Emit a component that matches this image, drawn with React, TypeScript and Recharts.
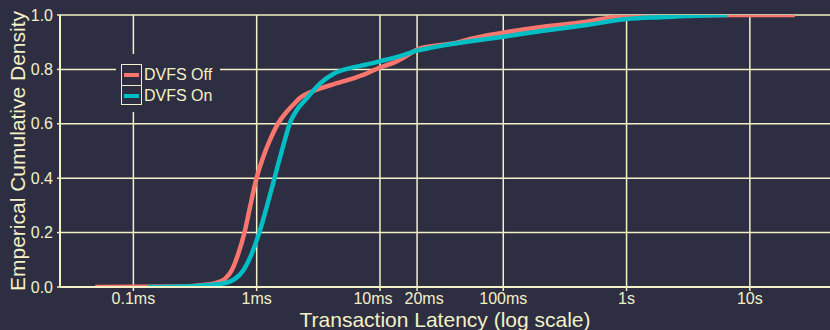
import React from 'react';
import { LineChart, Line, XAxis, YAxis, CartesianGrid } from 'recharts';

// latency in ms, cumulative share
const offLatency = [0.049, 0.25, 0.381, 0.459, 0.553, 0.627, 0.709, 0.804, 0.883, 0.987, 1.13, 1.28, 1.5, 1.75, 2.0, 2.24, 2.54, 3.26, 4.18, 5.71, 7.8, 10, 12.8, 15.5, 18.6, 21.1, 27, 41.9, 53.7, 100, 211, 474, 883, 1285, 23200];
const offDensity = [0, 0.002, 0.008, 0.014, 0.03, 0.061, 0.122, 0.208, 0.294, 0.392, 0.478, 0.54, 0.603, 0.644, 0.672, 0.695, 0.71, 0.73, 0.745, 0.763, 0.785, 0.807, 0.824, 0.843, 0.865, 0.877, 0.886, 0.898, 0.912, 0.935, 0.957, 0.975, 0.996, 1, 1];

const onLatency = [0.13, 0.3, 0.405, 0.52, 0.667, 0.778, 0.911, 1.064, 1.205, 1.38, 1.5, 1.66, 1.86, 2.11, 2.54, 3.26, 4.18, 5.71, 7.8, 10, 14.5, 17.5, 19.9, 27, 41.9, 100, 211, 474, 1000, 1866, 6520];
const onDensity = [0, 0.003, 0.007, 0.012, 0.03, 0.061, 0.122, 0.208, 0.294, 0.392, 0.455, 0.527, 0.603, 0.65, 0.693, 0.748, 0.783, 0.805, 0.818, 0.83, 0.849, 0.861, 0.869, 0.881, 0.896, 0.92, 0.942, 0.963, 0.985, 0.992, 1];

const xTicks = [0.1, 1, 10, 20, 100, 1000, 10000];
const xTickLabels = ['0.1ms', '1ms', '10ms', '20ms', '100ms', '1s', '10s'];
const yTicks = [0, 0.2, 0.4, 0.6, 0.8, 1.0];

const offData = offLatency.map((x, i) => ({ x, y: offDensity[i] }));
const onData = onLatency.map((x, i) => ({ x, y: onDensity[i] }));

const BG = '#2e2e42';
const FG = '#f3f1c6';
const RED = '#f8766d';
const CYAN = '#00bfc4';
const FONT = '"Liberation Sans", Arial, sans-serif';

// 10ms and 20ms sit close together, nudge them apart like the original
const nudge: Record<number, number> = { 10: -7, 20: 7 };

const XTick = (props: any) => {
  const { x, y, payload } = props;
  const v = payload.value as number;
  const i = xTicks.indexOf(v);
  return (
    <text
      x={x + (nudge[v] || 0)}
      y={y}
      dy="0.71em"
      textAnchor="middle"
      fill={FG}
      fontSize={16}
      fontFamily={FONT}
    >
      {i >= 0 ? xTickLabels[i] : String(v)}
    </text>
  );
};

export default function App() {
  return (
    <div
      style={{
        position: 'fixed',
        left: 0,
        top: 0,
        width: 830,
        height: 330,
        background: BG,
        fontFamily: FONT,
        overflow: 'hidden',
      }}
    >
      <LineChart width={830} height={330} margin={{ top: 15, right: 0, bottom: 0, left: 0 }}>
        <CartesianGrid stroke={FG} strokeWidth={1.5} horizontalValues={yTicks} verticalValues={xTicks} />
        <XAxis
          type="number"
          dataKey="x"
          scale="log"
          domain={[0.0254, 44670]}
          allowDataOverflow
          ticks={xTicks}
          interval={0}
          height={43}
          tickSize={4}
          tickMargin={1.5}
          stroke={FG}
          axisLine={{ stroke: FG, strokeWidth: 2 }}
          tickLine={{ stroke: FG, strokeWidth: 1.5 }}
          tick={<XTick />}
          label={{
            content: () => (
              <text x={445} y={327} textAnchor="middle" fill={FG} fontSize={21} fontFamily={FONT}>
                Transaction Latency (log scale)
              </text>
            ),
          }}
        />
        <YAxis
          type="number"
          dataKey="y"
          domain={[0, 1]}
          allowDataOverflow
          ticks={yTicks}
          interval={0}
          tickFormatter={(v: number) => v.toFixed(1)}
          width={60}
          tickSize={3}
          tickMargin={4}
          axisLine={{ stroke: FG, strokeWidth: 2 }}
          tickLine={{ stroke: FG, strokeWidth: 1.5 }}
          tick={{ fill: FG, fontSize: 16, fontFamily: FONT }}
          label={{
            content: () => (
              <text
                x={25}
                y={151}
                transform="rotate(-90 25 151)"
                textAnchor="middle"
                fill={FG}
                fontSize={21}
                fontFamily={FONT}
              >
                Emperical Cumulative Density
              </text>
            ),
          }}
        />
        <Line
          data={offData}
          dataKey="y"
          type="monotoneX"
          stroke={RED}
          strokeWidth={4.5}
          dot={false}
          isAnimationActive={false}
        />
        <Line
          data={onData}
          dataKey="y"
          type="monotoneX"
          stroke={CYAN}
          strokeWidth={4.5}
          dot={false}
          isAnimationActive={false}
        />
      </LineChart>
      <div
        style={{
          position: 'absolute',
          left: 116,
          top: 54,
          width: 104,
          height: 58,
          background: BG,
        }}
      >
        <div
          style={{
            position: 'absolute',
            left: 5,
            top: 10,
            width: 19,
            height: 39,
            border: `1.5px solid ${FG}`,
          }}
        >
          <div style={{ position: 'absolute', left: 0, right: 0, top: 19.5, height: 1.5, background: FG }} />
          <div style={{ position: 'absolute', left: 2, width: 15, top: 8, height: 4, background: RED }} />
          <div style={{ position: 'absolute', left: 2, width: 15, top: 29, height: 4, background: CYAN }} />
        </div>
        {['DVFS Off', 'DVFS On'].map((t, i) => (
          <div
            key={t}
            style={{
              position: 'absolute',
              left: 28,
              top: 11 + i * 21,
              fontSize: 16,
              lineHeight: '20px',
              color: FG,
              whiteSpace: 'nowrap',
            }}
          >
            {t}
          </div>
        ))}
      </div>
    </div>
  );
}
